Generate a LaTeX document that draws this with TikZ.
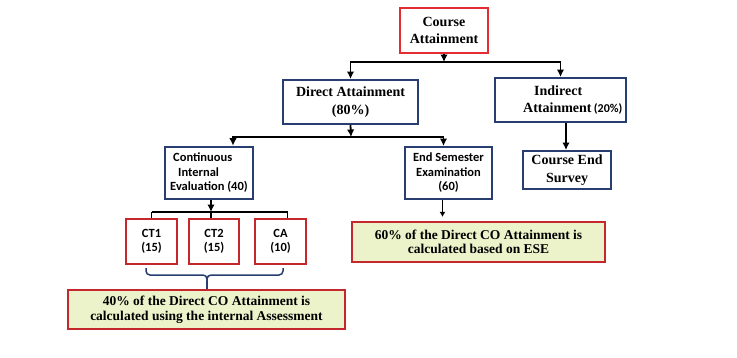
\documentclass[tikz,border=0pt]{standalone}
\usepackage{fontspec}
\setmainfont{Liberation Serif}
\newfontfamily\calfont{Carlito}
\usetikzlibrary{arrows.meta}
\definecolor{redb}{RGB}{196,40,45}
\definecolor{redc}{RGB}{228,45,50}
\definecolor{blueb}{RGB}{40,62,112}
\definecolor{greenf}{RGB}{236,242,202}
\begin{document}
\begin{tikzpicture}[x=1pt,y=-1pt,
  serif/.style={font=\bfseries\fontsize{14}{17.5}\selectfont},
  sans/.style={font=\calfont\bfseries\fontsize{12.5}{14.5}\selectfont},
  bluebox/.style={draw=blueb, line width=2pt, inner sep=0pt, align=center},
  redbox/.style={draw=redb, line width=2pt, inner sep=0pt, align=center},
  notebox/.style={draw=redb, fill=greenf, line width=2.2pt, inner sep=0pt, align=center},
  conn/.style={black, line width=1.8pt, -{Latex[length=7.5pt,width=7.5pt]}},
  plain/.style={black, line width=1.8pt}]
\useasboundingbox[fill=white] (0,0) rectangle (737,357);

% nodes
\node[redbox, draw=redc, serif, minimum width=88pt, minimum height=45pt] (ca) at (444,30.5) {Course\\Attainment};
\node[bluebox, serif, minimum width=135pt, minimum height=44pt] (da) at (350.5,102) {Direct Attainment\\(80\%)};
\node[bluebox, minimum width=131pt, minimum height=44pt] (ia) at (560.5,100) {};
\node[serif, align=left, inner sep=0pt, anchor=west] (iat) at (523,100) {\hspace*{11pt}Indirect\\Attainment\,{\calfont\fontsize{12}{14}\selectfont(20\%)}};
\node[bluebox, line width=2.6pt, sans, align=left, minimum width=88pt, minimum height=52pt] (cie) at (209,173) {\hspace*{3pt}Continuous\\\hspace*{8pt}Internal\\Evaluation (40)};
\node[bluebox, sans, minimum width=87pt, minimum height=52pt] (ese) at (448.5,173) {End Semester\\Examination\\(60)};
\node[bluebox, serif, minimum width=88pt, minimum height=38pt] (ces) at (567,170) {Course End\\Survey};
\node[redbox, sans, minimum width=51pt, minimum height=45pt] (ct1) at (151.5,241.5) {CT1\\(15)};
\node[redbox, sans, minimum width=50pt, minimum height=45pt] (ct2) at (214,241.5) {CT2\\(15)};
\node[redbox, sans, minimum width=51pt, minimum height=45pt] (cact) at (280.5,241.5) {CA\\(10)};
\node[notebox, font=\bfseries\fontsize{13.5}{14.5}\selectfont, minimum width=277pt, minimum height=39pt] (g40) at (206.5,309.5) {40\% of the Direct CO Attainment is\\calculated using the internal Assessment};
\node[notebox, font=\bfseries\fontsize{13.5}{14.5}\selectfont, minimum width=253pt, minimum height=40pt] (g60) at (478.5,242) {60\% of the Direct CO Attainment is\\calculated based on ESE};

% connectors
\coordinate (j1) at (444,62);
\draw[conn] (ca.south) -- (j1);
\draw[conn] (j1) -| (da.north);
\draw[conn] (j1) -| (ia.north);
\coordinate (j2) at (351,137);
\draw[conn] (da.south) -- (j2);
\draw[conn] (j2) -| ([xshift=24pt]cie.north);
\draw[conn] (j2) -| ([xshift=-5pt]ese.north);
\draw[conn] ([xshift=5.5pt]ia.south) -- ([xshift=-1pt]ces.north);
\coordinate (j3) at (211,212);
\draw[conn] ([xshift=2pt]cie.south) -- (j3);
\draw[plain] (ct1.north |- j3) -- ([xshift=7pt]cact.north |- j3);
\draw[plain] (ct1.north |- j3) -- (ct1.north);
\draw[plain] (j3) -- (j3 |- ct2.north);
\draw[plain] ([xshift=7pt]cact.north |- j3) -- ([xshift=7pt]cact.north);
\draw[conn, -{Latex[length=5pt,width=6pt]}, shorten >=4pt] ([xshift=-6pt]ese.south) -- ([xshift=-6pt]ese.south |- g60.north);

% brace
\coordinate (bt) at (207,281);
\draw[blueb, line width=1.5pt, rounded corners=4pt]
  (146,268) -- (146,275) -- (207,275) -- (bt);
\draw[blueb, line width=1.5pt, rounded corners=4pt]
  (283,268) -- (283,275) -- (207,275) -- (bt);
\draw[blueb, line width=1.5pt] (bt) -- (g40.north -| bt);
\end{tikzpicture}
\end{document}
